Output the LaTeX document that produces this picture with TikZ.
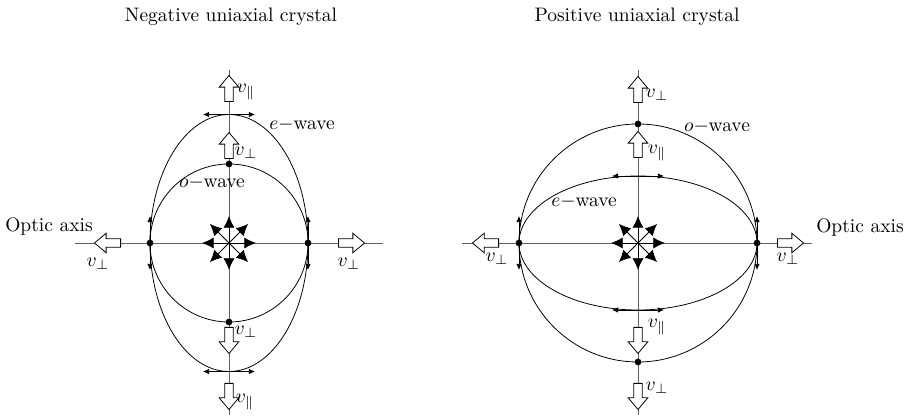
\documentclass[tikz,border=0pt]{standalone}
\usetikzlibrary{arrows.meta,positioning,shapes.arrows}

\begin{document}
\begin{tikzpicture}[x=0.018cm,y=0.018cm,
  axis/.style={gray!75!black},
  dot/.style={draw,circle,fill,inner sep=0pt,minimum size=3pt},
  hollow/.style={single arrow,draw,fill=white,inner sep=2pt,minimum height=0.47cm,
    single arrow head extend=2.8pt,single arrow tip angle=80,anchor=tail},
  tang/.style={-{Latex[length=1.1mm,width=1mm]}},
  burst/.style={-{Latex[length=2.1mm,width=2mm]}}]
\useasboundingbox (0,0) rectangle (904,417);
\node (tl) at (231,400) {Negative uniaxial crystal};
\node (tr) at (637,400) {Positive uniaxial crystal};

% negative crystal
\coordinate (cl) at (229,174);
\coordinate (lw) at (75,174);
\coordinate (le) at (383,174);
\coordinate (ln) at (229,347);
\coordinate (ls) at (229,2);
\draw[axis] (lw) -- (le);
\draw[axis] (ls) -- (ln);
\draw (cl) circle [radius=79];
\draw (cl) ellipse [x radius=79, y radius=128.5];
\coordinate (let) at (229,302.5);
\coordinate (leb) at (229,45.5);
\draw[tang] (let) -- ++(-26,0);
\draw[tang] (let) -- ++(26,0);
\draw[tang] (leb) -- ++(-26,0);
\draw[tang] (leb) -- ++(26,0);
\node[dot] (lt) at (229,253) {};
\node[dot] (lb) at (229,95) {};
\node[dot] (ll) at (150,174) {};
\node[dot] (lr) at (308,174) {};
\draw[tang] (ll.center) -- ++(0,27);
\draw[tang] (ll.center) -- ++(0,-27);
\draw[tang] (lr.center) -- ++(0,27);
\draw[tang] (lr.center) -- ++(0,-27);
\foreach \a in {0,45,...,315} \draw[burst] (cl) -- ++(\a:27);
\node[hollow,rotate=90] (la1) at (229,315) {};
\node[hollow,rotate=90] (la2) at (229,258) {};
\node[hollow,rotate=-90] (la3) at (229,90) {};
\node[hollow,rotate=-90] (la4) at (229,34) {};
\node[hollow,rotate=180] (la5) at (121,174) {};
\node[hollow] (la6) at (338,174) {};
\node (lv1) at (246,325) {$v_\parallel$};
\node (lv2) at (246,264) {$v_\perp$};
\node (lv3) at (246,85) {$v_\perp$};
\node (lv4) at (245,15) {$v_\parallel$};
\node (lv5) at (98,153) {$v_\perp$};
\node (lv6) at (349,153) {$v_\perp$};
\node (lew) at (302,292) {$e-$wave};
\node (low) at (212,234) {$o-$wave};
\node (lax) at (49,190) {Optic axis};

% positive crystal
\coordinate (cr) at (638,174);
\coordinate (rw) at (462,174);
\coordinate (re) at (812,174);
\coordinate (rn) at (638,347);
\coordinate (rs) at (638,2);
\draw[axis] (rw) -- (re);
\draw[axis] (rs) -- (rn);
\draw (cr) circle [radius=119];
\draw (cr) ellipse [x radius=119, y radius=67];
\coordinate (ret) at (638,241);
\coordinate (reb) at (638,107);
\draw[tang] (ret) -- ++(-26,0);
\draw[tang] (ret) -- ++(26,0);
\draw[tang] (reb) -- ++(-26,0);
\draw[tang] (reb) -- ++(26,0);
\node[dot] (rt) at (638,293) {};
\node[dot] (rb) at (638,55) {};
\node[dot] (rl) at (519,174) {};
\node[dot] (rr) at (757,174) {};
\draw[tang] (rl.center) -- ++(0,27);
\draw[tang] (rl.center) -- ++(0,-27);
\draw[tang] (rr.center) -- ++(0,27);
\draw[tang] (rr.center) -- ++(0,-27);
\foreach \a in {0,45,...,315} \draw[burst] (cr) -- ++(\a:27);
\node[hollow,rotate=90] (ra1) at (638,314) {};
\node[hollow,rotate=90] (ra2) at (638,259) {};
\node[hollow,rotate=-90] (ra3) at (638,90) {};
\node[hollow,rotate=-90] (ra4) at (638,34) {};
\node[hollow,rotate=180] (ra5) at (499,174) {};
\node[hollow] (ra6) at (777,174) {};
\node (rv1) at (657,322) {$v_\perp$};
\node (rv2) at (657,264) {$v_\parallel$};
\node (rv3) at (657,90) {$v_\parallel$};
\node (rv4) at (657,29) {$v_\perp$};
\node (rv5) at (497,158) {$v_\perp$};
\node (rv6) at (788,158) {$v_\perp$};
\node (row) at (717,290) {$o-$wave};
\node (rew) at (584,215) {$e-$wave};
\node (rax) at (860,189) {Optic axis};
\end{tikzpicture}
\end{document}
